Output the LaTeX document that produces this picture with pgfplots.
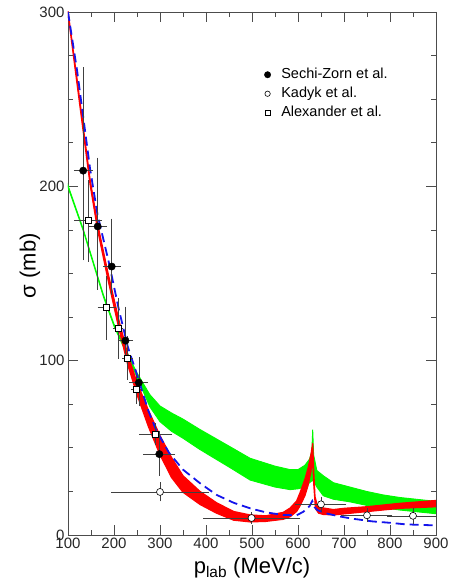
\documentclass[border=0pt]{standalone}
\usepackage{fontspec}
\setmainfont{Liberation Sans}
\usepackage{pgfplots}
\pgfplotsset{compat=1.18}
\usepackage{pgfplotstable}
\definecolor{gband}{RGB}{0,250,0}
\definecolor{rband}{RGB}{255,0,0}
\definecolor{bline}{RGB}{20,20,235}

\pgfplotstableread{
x y ex eyp eym
133 209 15 58 50
164.5 177 14 38 35
195 154 14 26 15
225 111.5 11 18 11
254 87.4 15 13 12
298.5 46.4 29 12 11
}\sechi

\pgfplotstableread{
x y ex ey
300 24.7 101 4
499 9.75 100 2
650 17.6 50 3
750 11.3 50 2.5
850 11 50 3
}\kadyk

\pgfplotstableread{
x y ex ey
144 180.3 25 22
184 130.4 14 17
208.7 118.4 6 16
229 101.5 6 11
249 83.6 6 7
290.6 57.8 30 5
}\alex

\begin{document}
\begin{tikzpicture}
\path[use as bounding box] (-68bp,-44bp) rectangle (382bp,535bp);
\begin{axis}[
  scale only axis, width=368bp, height=523bp,
  at={(0,0)}, anchor=south west,
  xmin=100, xmax=900, ymin=0, ymax=300,
  xtick={100,200,...,900}, ytick={0,100,200,300},
  minor x tick num=1, minor y tick num=3,
  tick align=inside, major tick length=10bp, minor tick length=5bp,
  axis line style={black!70, line width=0.9bp},
  every tick/.append style={black!70, line width=0.8bp},
  every minor tick/.append style={black!70, line width=0.8bp},
  tick label style={font=\fontsize{15bp}{18bp}\selectfont, text=black!85},
  /pgf/number format/assume math mode=true,
  xlabel={p\textsubscript{lab} (MeV/c)},
  ylabel={σ (mb)},
  label style={font=\fontsize{22bp}{26bp}\selectfont},
  xlabel style={at={(axis description cs:0.5,0)}, anchor=base, yshift=-38bp},
  ylabel style={at={(axis description cs:-0.088,0.515)}, anchor=base, rotate=0},
  legend style={draw=none, fill=none, at={(axis cs:520,270)}, anchor=north west,
    font=\fontsize{14.5bp}{17bp}\selectfont,
    nodes={inner sep=1.5bp, text height=10.5bp, text depth=3bp},
    row sep=2.5bp, column sep=9bp},
  legend cell align=left,
  legend image code/.code={\draw[#1] plot coordinates {(4bp,0bp)};},
  error bars/error bar style={black!75, line width=0.6bp},
  error bars/error mark options={black!75, line width=0.6bp, mark size=2.5bp},
]
% green band
\addplot[fill=gband, draw=gband, line width=0.9bp, forget plot] coordinates {
(100,200.6)(133,175.6)(177,137.8)(200,121)(235,101)(250,93)(278,80.5)(300,74)(325,70)(350,66.5)(387,60.5)(450,51)(496,44)(550,39.5)(583,37.5)(600,37.5)(615,40)(625,43.5)(630,48)(632,60.5)(634,46)(641,37)(655,34)(677,30)(713,27.5)(749,25)(785,23)(822,21.5)(900,19.3)
(900,12.2)(822,14.3)(749,17)(713,19)(677,20.5)(655,22.5)(641,27.5)(634,31)(630,31)(625,30)(615,27.5)(600,26.5)(583,26)(550,27.5)(496,31.5)(450,39)(387,49)(350,55.5)(325,59.5)(300,65)(278,73.5)(250,90.5)(235,99.5)(200,119.8)(177,136.6)(133,174.6)(100,199.4)
} -- cycle;
% red band
\addplot[fill=rband, draw=rband, line width=1.2bp, forget plot] coordinates {
(100,300.5)(120,261)(148,204)(164,179)(186,151.5)(210,124)(230,103.5)(250,87.5)(275,71.5)(300,57)(325,44.5)(350,34)(387,25)(423,18.5)(460,13.5)(496,11.5)(530,11)(568,13)(583,15.5)(597,19.5)(604,24)(615,32)(622,38.5)(628,46)(632,52.6)(634,38)(637,22)(642,17)(655,15.5)(677,14.6)(700,15.3)(749,16.2)(800,17.6)(822,18.2)(900,19.8)
(900,16.2)(822,15.3)(749,13.4)(677,11.5)(655,11.8)(645,12.5)(638,15)(634,30)(632,44)(628,36)(622,28.5)(615,22.5)(604,16.5)(597,13.5)(583,10.5)(568,9)(530,7.8)(496,7.5)(460,8.5)(423,12.5)(387,17.5)(350,24.5)(325,33)(300,46)(275,62)(250,80.5)(230,97.5)(210,119)(186,147.5)(164,175.5)(148,201)(120,258)(100,299)
} -- cycle;
% blue dashed
\addplot[bline, line width=1.8bp, dash pattern=on 9bp off 5bp, forget plot] coordinates {
(100,300)(120,266)(148,210)(164,184)(190,155)(210,130)(230,108)(250,92)(275,71)(292,60)(320,47)(350,37.5)(387,29.7)(423,23)(460,18.5)(496,15.3)(530,13)(568,11.5)(597,11.3)(612,13.4)(625,16.5)(631,19.5)(636,16)(642,14.3)(660,12.5)(689,10.7)(720,9.3)(762,7.8)(800,7)(834,6.1)(900,5.5)
};
% data
\addplot[only marks, mark=*, mark size=3.7bp, black, forget plot,
  error bars/.cd, x dir=both, x explicit, y dir=both, y explicit]
  table[x=x, y=y, x error=ex, y error plus=eyp, y error minus=eym] {\sechi};
\addplot[only marks, mark=*, mark size=3.5bp, mark options={fill=white, draw=black, line width=0.6bp}, forget plot,
  error bars/.cd, x dir=both, x explicit, y dir=both, y explicit]
  table[x=x, y=y, x error=ex, y error=ey] {\kadyk};
\addplot[only marks, mark=square*, mark size=3bp, mark options={fill=white, draw=black, line width=0.6bp}, forget plot,
  error bars/.cd, x dir=both, x explicit, y dir=both, y explicit]
  table[x=x, y=y, x error=ex, y error=ey] {\alex};
% legend
\addlegendimage{only marks, mark=*, mark size=3.2bp, black}
\addlegendentry{Sechi-Zorn et al.}
\addlegendimage{only marks, mark=*, mark size=2.7bp, mark options={fill=white, draw=black, line width=0.6bp}}
\addlegendentry{Kadyk et al.}
\addlegendimage{only marks, mark=square*, mark size=2.3bp, mark options={fill=white, draw=black, line width=0.6bp}}
\addlegendentry{Alexander et al.}
\end{axis}
\end{tikzpicture}
\end{document}
